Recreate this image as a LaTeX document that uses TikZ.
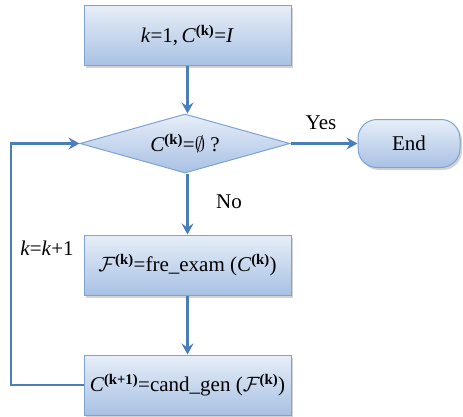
\documentclass[tikz,border=0pt]{standalone}
\usepackage{fontspec}
\setmainfont{Liberation Serif}
\usetikzlibrary{shapes.geometric, arrows.meta, shadows}

\definecolor{flowblue}{HTML}{4A7EBB}
\definecolor{boxtop}{HTML}{E7EEF8}
\definecolor{boxbottom}{HTML}{A8C1E4}
\definecolor{boxline}{HTML}{7CA3D5}

\newcommand{\supk}{\textsuperscript{\textbf{(k)}}}
\newcommand{\supkk}{\textsuperscript{\textbf{(k+1)}}}

\begin{document}
\begin{tikzpicture}[x=1pt, y=-1pt, font=\fontsize{21}{25}\selectfont]
  % Set the node styles
  \tikzset{
    flowbox/.style={rectangle, draw=boxline, line width=1pt, top color=boxtop, bottom color=boxbottom,
      minimum width=207pt, minimum height=60pt, inner sep=0pt,
      drop shadow={shadow xshift=2pt, shadow yshift=-2.5pt, opacity=0.35}},
    testbox/.style={diamond, draw=boxline, line width=1pt, top color=boxtop, bottom color=boxbottom,
      aspect=3.56, minimum width=210pt, minimum height=59pt, inner sep=0pt},
    endbox/.style={rectangle, rounded corners=19pt, draw=boxline, line width=1pt, top color=boxtop, bottom color=boxbottom,
      minimum width=102pt, minimum height=48pt,
      drop shadow={shadow xshift=2pt, shadow yshift=-2.5pt, opacity=0.35}},
    flow/.style={->, >={Stealth[length=11pt, width=12pt, inset=4pt]}, draw=flowblue, line width=2.4pt}
  }
  \useasboundingbox (0,0) rectangle (463,416);

  % Draw the flow chart nodes
  \node[flowbox] (init) at (187.5,35.5) {\textit{k}=1,\,\textit{C}\supk=\textit{I}};
  \node[testbox] (test) at (185,143.5) {\textit{C}\supk=$\emptyset$ ?};
  \node[endbox] (stop) at (409,143.5) {End};
  \node[flowbox] (exam) at (187.5,265) {$\mathcal{F}$\supk=fre\_exam (\textit{C}\supk)};
  \node[flowbox] (gen) at (187.5,385) {\textit{C}\supkk=cand\_gen ($\mathcal{F}$\supk)};
  \coordinate (loop) at (11,385);

  % Label the branches
  \node (yes) at (321,123) {Yes};
  \node (no) at (229,202) {No};
  \node (step) at (47,248) {\textit{k}=\textit{k}+1};

  % Connect the flow chart nodes
  \draw[flow] (init) -- (init |- test.north);
  \draw[flow] (test.south -| exam) -- (exam);
  \draw[flow] (exam) -- (gen);
  \draw[flow] (test.east) -- (stop.west);
  \draw[flow] (gen.west) -- (loop) |- (test.west);
\end{tikzpicture}
\end{document}
